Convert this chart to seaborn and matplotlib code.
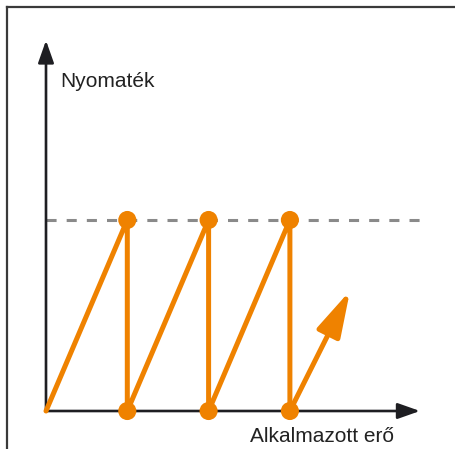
import matplotlib
matplotlib.use("Agg")
import matplotlib.pyplot as plt
from matplotlib.lines import Line2D
import seaborn as sns
import pandas as pd

sns.set_theme(style="white")
plt.rcParams["font.family"] = ["Liberation Sans", "DejaVu Sans"]

# Sawtooth torque path: force units on x, torque (relative to limit) on y
force = [0, 1, 1, 2, 2, 3, 3]
torque = [0, 1, 0, 1, 0, 1, 0]
# Dots at the peaks and drops
dot_force = [1, 2, 3, 1, 2, 3]
dot_torque = [1, 1, 1, 0, 0, 0]
# Final rising stroke (continues beyond the chart)
tail_start = (3, 0)
tail_end = (3.74, 0.63)
torque_limit = 1.0

axis_label_y = "Nyomaték"
axis_label_x = "Alkalmazott erő"

ORANGE = "#EF8200"
AXIS = "#1e1e22"

W, H = 455, 449
fig = plt.figure(figsize=(W / 100, H / 100), dpi=100)
ax = fig.add_axes([0, 0, 1, 1])
px_x, px_y = 81.3, 191.0
x0_px, y0_px = 46.0, 449 - 411.0
ax.set_xlim(-x0_px / px_x, (W - x0_px) / px_x)
ax.set_ylim(-y0_px / px_y, (H - y0_px) / px_y)
ax.axis("off")

# frame (top and left edges)
fig.add_artist(Line2D([6.5 / W, 6.5 / W], [0, 1 - 6.5 / H], transform=fig.transFigure,
                      color="#3a3a3a", lw=1.6, solid_capstyle="projecting"))
fig.add_artist(Line2D([6.5 / W, 1], [1 - 6.5 / H, 1 - 6.5 / H], transform=fig.transFigure,
                      color="#3a3a3a", lw=1.6, solid_capstyle="projecting"))

# torque limit
ax.plot([0, 4.66], [torque_limit, torque_limit], color="#8a8a8a", lw=2.2,
        dashes=(3.3, 3.3), zorder=1)

# axes with arrows
axis_arrow = dict(arrowstyle="-|>,head_length=0.85,head_width=0.3",
                  mutation_scale=16, lw=1.9, color=AXIS, shrinkA=0, shrinkB=0)
ax.annotate("", xy=(0, 1.94), xytext=(0, 0), arrowprops=axis_arrow, zorder=2)
ax.annotate("", xy=(4.6, 0), xytext=(0, 0), arrowprops=axis_arrow, zorder=2)

# sawtooth
df = pd.DataFrame({"force": force, "torque": torque})
sns.lineplot(data=df, x="force", y="torque", sort=False, estimator=None,
             color=ORANGE, lw=3.6, ax=ax, zorder=3)
ax.annotate("", xy=tail_end, xytext=tail_start,
            arrowprops=dict(arrowstyle="-|>,head_length=1.4,head_width=0.38",
                            mutation_scale=20, lw=3.6, color=ORANGE,
                            shrinkA=0, shrinkB=0), zorder=3)
dots = pd.DataFrame({"force": dot_force, "torque": dot_torque})
sns.scatterplot(data=dots, x="force", y="torque", s=170, color=ORANGE,
                edgecolor="none", ax=ax, zorder=4)
ax.set_xlabel("")
ax.set_ylabel("")
ax.axis("off")

fig.text(60 / W, 1 - 87 / H, axis_label_y, fontsize=15, color="#222222",
         ha="left", va="baseline")
fig.text(250 / W, 1 - 442 / H, axis_label_x, fontsize=15, color="#222222",
         ha="left", va="baseline")

fig.savefig("out.png", dpi=100)
